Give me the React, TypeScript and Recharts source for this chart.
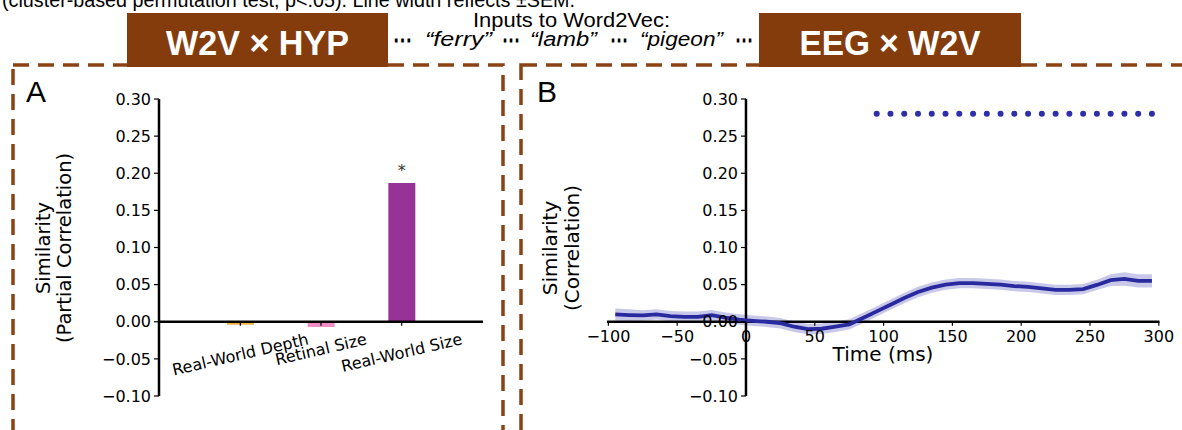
import React from 'react';
import {
  BarChart,
  Bar,
  Cell,
  LabelList,
  XAxis,
  YAxis,
  ReferenceLine,
  ComposedChart,
  Area,
  Line,
} from 'recharts';

// ---------- Data: panel A (W2V x HYP) ----------
const featureNames = ['Real-World Depth', 'Retinal Size', 'Real-World Size'];
const partialCorr = [-0.004, -0.007, 0.187];
const featureColors = ['#F2B33F', '#F28CC6', '#973396'];
const sigMarks = ['', '', '*'];

// ---------- Data: panel B (EEG x W2V) ----------
const timePoints = [
  -95, -85, -75, -65, -55, -45, -35, -25, -15, -5, 5, 15, 25, 35, 45, 55, 65, 75, 85, 95,
  105, 115, 125, 135, 145, 155, 165, 175, 185, 195, 205, 215, 225, 235, 245, 255, 265, 275, 285, 295,
];
const eegW2v = [
  0.0098, 0.009, 0.0085, 0.010, 0.0076, 0.0067, 0.0067, 0.0088, 0.0054, 0.003,
  0.0013, 0.0, -0.002, -0.0067, -0.010, -0.0094, -0.0067, -0.0036, 0.005, 0.014,
  0.023, 0.032, 0.040, 0.046, 0.050, 0.052, 0.052, 0.051, 0.050, 0.048,
  0.047, 0.045, 0.043, 0.043, 0.044, 0.0496, 0.056, 0.0576, 0.055, 0.055,
];
const eegW2vSem = [
  0.008, 0.008, 0.007, 0.007, 0.007, 0.007, 0.007, 0.007, 0.007, 0.007,
  0.007, 0.007, 0.007, 0.007, 0.007, 0.007, 0.007, 0.007, 0.007, 0.007,
  0.007, 0.007, 0.007, 0.007, 0.007, 0.007, 0.007, 0.007, 0.007, 0.007,
  0.007, 0.007, 0.007, 0.007, 0.007, 0.007, 0.008, 0.009, 0.009, 0.009,
];
const sigTimes = [
  95, 105, 115, 125, 135, 145, 155, 165, 175, 185, 195, 205, 215, 225, 235, 245, 255, 265, 275, 285, 295,
];
const sigLevel = 0.28;

// ---------- Tick labels ----------
const simTicks = [-0.1, -0.05, 0, 0.05, 0.1, 0.15, 0.2, 0.25, 0.3];
const timeTicks = [-100, -50, 0, 50, 100, 150, 200, 250, 300];

// ---------- Built tables ----------
const barData = featureNames.map((name, i) => ({
  name,
  value: partialCorr[i],
  sig: sigMarks[i],
}));
const lineData = timePoints.map((t, i) => ({
  t,
  r: eegW2v[i],
  band: [eegW2v[i] - eegW2vSem[i], eegW2v[i] + eegW2vSem[i]],
  sig: sigTimes.includes(t) ? sigLevel : null,
}));

// ---------- Layout constants ----------
const W = 1182;
const H = 430;
const Y_MIN = -0.1;
const Y_MAX = 0.3;
const PLOT_TOP = 99;
const PLOT_BOTTOM = 396;
const PLOT_H = PLOT_BOTTOM - PLOT_TOP;
const ZERO_Y = PLOT_TOP + (PLOT_H * (Y_MAX - 0)) / (Y_MAX - Y_MIN);
const X_AXIS_H = 30;
const Y_AXIS_W = 60;

const MPL_FONT = "'DejaVu Sans', sans-serif";
const HDR_FONT = "'Liberation Sans', Arial, sans-serif";
const BROWN = '#843C0C';
const DASH_BROWN = '#8B4316';
const BLUE = '#2A2AA0';

// left chart
const L_W = 520;
const L_PLOT_LEFT = 159;
const L_PLOT_RIGHT = 483;

// right chart
const R_X0 = 520;
const R_W = 662;
const R_PLOT_LEFT = 87; // local
const R_PLOT_RIGHT = 639.5; // local
const T_MIN = -101;
const T_MAX = 300.5;
const R_ZERO_X =
  R_PLOT_LEFT + ((0 - T_MIN) / (T_MAX - T_MIN)) * (R_PLOT_RIGHT - R_PLOT_LEFT);

const fmtSim = (v: number) => {
  const s = Math.abs(v).toFixed(2);
  return v < 0 ? '\u2212' + s : s;
};
const fmtTime = (v: number) => (v < 0 ? '\u2212' + Math.abs(v) : String(v));

let measureCtx: CanvasRenderingContext2D | null = null;
const measure = (s: string, font: string) => {
  if (!measureCtx) {
    const c = document.createElement('canvas');
    measureCtx = c.getContext('2d');
  }
  if (!measureCtx) return s.length * 9;
  measureCtx.font = font;
  return measureCtx.measureText(s).width;
};

const BarTick = (props: any) => {
  const { x, payload } = props;
  const label = String(payload.value);
  const fs = 16;
  const ang = 13;
  const rad = (ang * Math.PI) / 180;
  const len = measure(label, `${fs}px 'DejaVu Sans'`);
  const h = fs * 1.16;
  const bboxH = len * Math.sin(rad) + h * Math.cos(rad);
  const cy = ZERO_Y + 8 + bboxH / 2;
  return (
    <g>
      <line x1={x} x2={x} y1={ZERO_Y} y2={ZERO_Y + 4} stroke="#000" strokeWidth={1.2} />
      <text
        x={x}
        y={cy}
        textAnchor="middle"
        dominantBaseline="central"
        fontFamily={MPL_FONT}
        fontSize={fs}
        fill="#000"
        transform={`rotate(${-ang}, ${x}, ${cy})`}
      >
        {label}
      </text>
    </g>
  );
};

const TimeTick = (props: any) => {
  const { x, payload } = props;
  return (
    <g>
      <line x1={x} x2={x} y1={ZERO_Y} y2={ZERO_Y + 4} stroke="#000" strokeWidth={1.2} />
      <text
        x={x}
        y={ZERO_Y + 20}
        textAnchor="middle"
        fontFamily={MPL_FONT}
        fontSize={16}
        fill="#000"
      >
        {fmtTime(payload.value)}
      </text>
    </g>
  );
};

const RightYTick = (props: any) => {
  const { y, payload } = props;
  return (
    <g>
      <line x1={R_ZERO_X - 5} x2={R_ZERO_X} y1={y} y2={y} stroke="#000" strokeWidth={1.2} />
      <text
        x={R_ZERO_X - 8}
        y={y}
        dy="0.355em"
        textAnchor="end"
        fontFamily={MPL_FONT}
        fontSize={16}
        fill="#000"
      >
        {fmtSim(payload.value)}
      </text>
    </g>
  );
};

const Dots = ({ x, width }: { x: number; width: number }) => (
  <text x={x} textLength={width} lengthAdjust="spacingAndGlyphs" fontWeight="bold" fontSize={22}>
    {'\u22EF'}
  </text>
);

export default function App() {
  return (
    <div
      style={{
        position: 'absolute',
        left: 0,
        top: 0,
        width: W,
        height: H,
        background: '#fff',
        overflow: 'hidden',
      }}
    >
      <svg width={W} height={H} style={{ position: 'absolute', left: 0, top: 0 }}>
        {/* cut-off caption line */}
        <text
          x={2}
          y={6.5}
          fontFamily={HDR_FONT}
          fontSize={20}
          fill="#000"
          textLength={573}
          lengthAdjust="spacingAndGlyphs"
        >
          (cluster-based permutation test, p&lt;.05). Line width reflects ±SEM.
        </text>

        {/* dashed panel frames */}
        <rect x={13} y={65} width={490} height={420} fill="none" stroke={DASH_BROWN} strokeWidth={3.5} strokeDasharray="16 9" />
        <rect x={521} y={65} width={700} height={420} fill="none" stroke={DASH_BROWN} strokeWidth={3.5} strokeDasharray="16 9" />

        {/* brown header boxes */}
        <rect x={127} y={13} width={261} height={54} fill={BROWN} />
        <rect x={759} y={13} width={262} height={54} fill={BROWN} />
        <text x={257.5} y={55} textAnchor="middle" fontFamily={HDR_FONT} fontWeight="bold" fontSize={35} fill="#fff" textLength={183} lengthAdjust="spacingAndGlyphs">
          W2V × HYP
        </text>
        <text x={890} y={55} textAnchor="middle" fontFamily={HDR_FONT} fontWeight="bold" fontSize={35} fill="#fff" textLength={181} lengthAdjust="spacingAndGlyphs">
          EEG × W2V
        </text>

        {/* inputs text */}
        <text x={571.5} y={26.5} textAnchor="middle" fontFamily={HDR_FONT} fontSize={20} fill="#000" textLength={197} lengthAdjust="spacingAndGlyphs">
          Inputs to Word2Vec:
        </text>
        <g fontFamily={HDR_FONT} fontSize={20} fill="#000">
          <g transform="translate(0,47)">
            <Dots x={393} width={19} />
            <Dots x={502} width={18} />
            <Dots x={610} width={18} />
            <Dots x={735} width={18} />
          </g>
          <text x={425} y={46} fontStyle="italic" textLength={67} lengthAdjust="spacingAndGlyphs">{'\u201Cferry\u201D'}</text>
          <text x={530} y={46} fontStyle="italic" textLength={67} lengthAdjust="spacingAndGlyphs">{'\u201Clamb\u201D'}</text>
          <text x={640} y={46} fontStyle="italic" textLength={83} lengthAdjust="spacingAndGlyphs">{'\u201Cpigeon\u201D'}</text>
        </g>

        {/* panel letters */}
        <text x={26} y={102} fontFamily={HDR_FONT} fontSize={30} fill="#000">A</text>
        <text x={537} y={102} fontFamily={HDR_FONT} fontSize={30} fill="#000">B</text>

        {/* y labels */}
        <g fontFamily={MPL_FONT} fontSize={19.5} fill="#000" textAnchor="middle">
          <text transform="translate(43,248) rotate(-90)" dominantBaseline="central">Similarity</text>
          <text transform="translate(64,248) rotate(-90)" dominantBaseline="central">(Partial Correlation)</text>
          <text transform="translate(550,248) rotate(-90)" dominantBaseline="central" fontSize={20}>Similarity</text>
          <text transform="translate(572,248) rotate(-90)" dominantBaseline="central" fontSize={20}>(Correlation)</text>
        </g>

        {/* x label panel B */}
        <text x={883} y={361} textAnchor="middle" fontFamily={MPL_FONT} fontSize={20} fill="#000">
          Time (ms)
        </text>
      </svg>

      {/* Panel A chart */}
      <div style={{ position: 'absolute', left: 0, top: 0 }}>
        <BarChart
          width={L_W}
          height={H}
          data={barData}
          margin={{
            top: PLOT_TOP,
            right: L_W - L_PLOT_RIGHT,
            bottom: H - PLOT_BOTTOM - X_AXIS_H,
            left: L_PLOT_LEFT - Y_AXIS_W,
          }}
          barSize={27}
        >
          <XAxis
            dataKey="name"
            type="category"
            height={X_AXIS_H}
            axisLine={false}
            tickLine={false}
            padding={{ left: 41, right: 41 }}
            interval={0}
            tick={(p: any) => <BarTick {...p} />}
          />
          <YAxis
            type="number"
            width={Y_AXIS_W}
            domain={[Y_MIN, Y_MAX]}
            ticks={simTicks}
            allowDataOverflow
            tickFormatter={fmtSim}
            axisLine={{ stroke: '#000', strokeWidth: 2.5 }}
            tickLine={{ stroke: '#000', strokeWidth: 1.2 }}
            tickSize={5}
            tickMargin={3}
            tick={{ fontFamily: MPL_FONT, fontSize: 16, fill: '#000' }}
          />
          <ReferenceLine y={0} stroke="#000" strokeWidth={2.5} />
          <Bar dataKey="value" isAnimationActive={false}>
            {barData.map((d, i) => (
              <Cell key={d.name} fill={featureColors[i]} />
            ))}
            <LabelList dataKey="sig" position="top" offset={7} fill="#333" fontSize={16} fontFamily={MPL_FONT} />
          </Bar>
        </BarChart>
      </div>

      {/* Panel B chart */}
      <div style={{ position: 'absolute', left: R_X0, top: 0 }}>
        <ComposedChart
          width={R_W}
          height={H}
          data={lineData}
          margin={{
            top: PLOT_TOP,
            right: R_W - R_PLOT_RIGHT,
            bottom: H - PLOT_BOTTOM - X_AXIS_H,
            left: R_PLOT_LEFT - Y_AXIS_W,
          }}
        >
          <XAxis
            dataKey="t"
            type="number"
            height={X_AXIS_H}
            domain={[T_MIN, T_MAX]}
            ticks={timeTicks}
            allowDataOverflow
            axisLine={false}
            tickLine={false}
            interval={0}
            tick={(p: any) => <TimeTick {...p} />}
          />
          <YAxis
            type="number"
            width={Y_AXIS_W}
            domain={[Y_MIN, Y_MAX]}
            ticks={simTicks}
            allowDataOverflow
            axisLine={false}
            tickLine={false}
            tick={(p: any) => <RightYTick {...p} />}
          />
          <Area
            dataKey="band"
            type="linear"
            stroke="none"
            fill="#3A3AB0"
            fillOpacity={0.28}
            isAnimationActive={false}
            activeDot={false}
          />
          <ReferenceLine y={0} stroke="#000" strokeWidth={2.5} />
          <ReferenceLine x={0} stroke="#000" strokeWidth={2.5} />
          <Line
            dataKey="r"
            type="linear"
            stroke={BLUE}
            strokeWidth={3.8}
            dot={false}
            activeDot={false}
            isAnimationActive={false}
          />
          <Line
            dataKey="sig"
            type="linear"
            stroke="none"
            dot={{ r: 3, fill: '#2E2EA8', stroke: 'none', strokeWidth: 0 }}
            activeDot={false}
            isAnimationActive={false}
          />
        </ComposedChart>
      </div>
    </div>
  );
}
